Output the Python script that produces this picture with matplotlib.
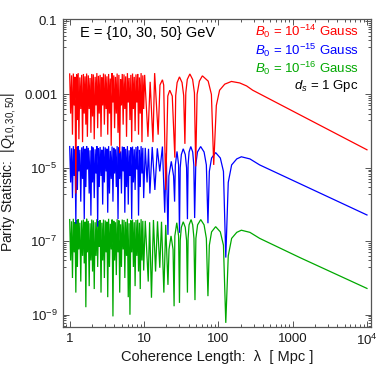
import numpy as np
import matplotlib
matplotlib.use("Agg")
import matplotlib.pyplot as plt

plt.rcParams['font.family'] = ['Liberation Sans', 'DejaVu Sans']
plt.rcParams['mathtext.fontset'] = 'custom'
plt.rcParams['mathtext.rm'] = 'Liberation Sans'
plt.rcParams['mathtext.it'] = 'Liberation Sans:italic'
plt.rcParams['mathtext.bf'] = 'Liberation Sans:bold'

# ---------------- data ----------------
# dense oscillation region, coherence length 1 .. 10 Mpc (alternating peak / trough)
dense_lam = [1.00, 1.03, 1.06, 1.09, 1.12, 1.15, 1.18, 1.21, 1.24, 1.27, 1.30, 1.33,
             1.37, 1.41, 1.45, 1.49, 1.53, 1.57, 1.61, 1.65, 1.69, 1.73, 1.78, 1.83,
             1.88, 1.93, 1.98, 2.03, 2.08, 2.14, 2.20, 2.26, 2.32, 2.38, 2.44, 2.50,
             2.57, 2.64, 2.71, 2.78, 2.85, 2.93, 3.01, 3.09, 3.17, 3.25, 3.34, 3.43,
             3.52, 3.62, 3.72, 3.82, 3.92, 4.02, 4.13, 4.24, 4.35, 4.47, 4.59, 4.71,
             4.84, 4.97, 5.10, 5.24, 5.38, 5.52, 5.67, 5.82, 5.98, 6.14, 6.30, 6.47,
             6.65, 6.83, 7.01, 7.20, 7.39, 7.59, 7.80, 8.01, 8.22, 8.44, 8.67, 8.90,
             9.14, 9.39, 9.64, 9.90]

red_peaks = [3.6e-3, 3.3e-3, 3.7e-3, 3.0e-3, 3.5e-3, 3.8e-3, 2.9e-3, 3.4e-3, 3.6e-3, 3.1e-3,
             3.7e-3, 3.3e-3, 2.8e-3, 3.6e-3, 3.5e-3, 3.0e-3, 3.8e-3, 3.2e-3, 3.4e-3, 2.9e-3,
             3.7e-3, 3.5e-3, 3.1e-3, 3.6e-3, 2.7e-3, 3.8e-3, 3.3e-3, 3.0e-3, 3.7e-3, 3.4e-3,
             2.6e-3, 3.6e-3, 3.5e-3, 3.1e-3, 3.8e-3, 2.8e-3, 3.4e-3, 3.7e-3, 3.0e-3, 3.5e-3,
             3.6e-3, 2.9e-3, 3.8e-3, 3.3e-3]
red_troughs = [3e-4, 8e-5, 5e-4, 2e-6, 2e-4, 6e-5, 4e-4, 5e-5, 3e-4, 1.5e-4,
               7e-5, 4e-4, 9e-5, 2.5e-4, 6e-5, 5e-4, 1.2e-4, 3e-4, 7e-5, 5e-4,
               1.5e-4, 4e-4, 8e-5, 3e-4, 4e-5, 6e-4, 1.2e-4, 3e-4, 9e-5, 2.5e-5,
               5e-4, 1.5e-4, 4e-4, 7e-5, 6e-4, 2e-4, 5e-5, 4e-4, 1e-4, 6e-4,
               8e-5, 3e-4, 5e-5, 4e-4]

blue_peaks = [3.8e-5, 3.4e-5, 3.9e-5, 3.2e-5, 3.7e-5, 3.9e-5, 3.1e-5, 3.6e-5, 3.8e-5, 3.3e-5,
              3.9e-5, 3.5e-5, 3.0e-5, 3.8e-5, 3.6e-5, 3.2e-5, 3.9e-5, 3.4e-5, 3.7e-5, 3.1e-5,
              3.8e-5, 3.6e-5, 3.3e-5, 3.9e-5, 2.9e-5, 3.8e-5, 3.5e-5, 3.2e-5, 3.9e-5, 3.6e-5,
              2.8e-5, 3.8e-5, 3.7e-5, 3.3e-5, 3.9e-5, 3.0e-5, 3.6e-5, 3.8e-5, 3.2e-5, 3.7e-5,
              3.8e-5, 3.1e-5, 3.9e-5, 3.5e-5]
blue_troughs = [4e-6, 1.5e-6, 6e-6, 3e-7, 2.5e-6, 8e-6, 1.2e-6, 5e-6, 4e-7, 3e-6,
                9e-6, 2e-6, 5e-7, 4e-6, 1.5e-6, 7e-6, 2.5e-7, 3e-6, 6e-6, 1e-6,
                4e-6, 8e-6, 6e-7, 2e-6, 5e-6, 1.2e-6, 7e-6, 3e-6, 4e-7, 5e-6,
                2e-6, 8e-6, 6e-7, 3e-6, 1e-6, 6e-6, 4e-7, 4e-6, 2.5e-6, 9e-6,
                5e-7, 3e-6, 7e-6, 1.5e-6]

green_peaks = [3.9e-7, 3.5e-7, 4.1e-7, 3.3e-7, 3.8e-7, 4.0e-7, 3.2e-7, 3.7e-7, 3.9e-7, 3.4e-7,
               4.1e-7, 3.6e-7, 3.1e-7, 3.9e-7, 3.7e-7, 3.3e-7, 4.0e-7, 3.5e-7, 3.8e-7, 3.2e-7,
               3.9e-7, 3.7e-7, 3.4e-7, 4.1e-7, 3.0e-7, 3.9e-7, 3.6e-7, 3.3e-7, 4.0e-7, 3.7e-7,
               2.9e-7, 3.9e-7, 3.8e-7, 3.4e-7, 4.1e-7, 3.1e-7, 3.7e-7, 3.9e-7, 3.3e-7, 3.8e-7,
               3.9e-7, 3.2e-7, 4.0e-7, 3.6e-7]
green_troughs = [3e-8, 1e-8, 5e-8, 4e-9, 2e-8, 6e-8, 8e-9, 4e-8, 2.5e-8, 1.6e-9,
                 5e-8, 6e-9, 3e-8, 1.5e-8, 5e-9, 4e-8, 2e-8, 7e-8, 4e-9, 3e-8,
                 1e-8, 5e-8, 3e-9, 2e-8, 6e-8, 9e-10, 3e-8, 1.2e-8, 5e-8, 4e-9,
                 2e-8, 6e-8, 1e-8, 4e-8, 3e-9, 1e-9, 5e-8, 2e-8, 6e-9, 4e-8,
                 1.5e-8, 5e-9, 3e-8, 1.6e-8]

# arcs (10 .. ~130 Mpc) and smooth tail up to 10^4 Mpc
red_arc_lam = [10.2, 11.3, 12.1, 13.2, 13.9, 15.5, 16.4, 17.7, 18.4, 19.6, 20.9, 22.2, 24.0,
               26.0, 26.7, 27.9, 30.0, 32.5, 34.2, 35.5, 36.5, 38.2, 41.4, 45.1, 47.7, 49.6,
               51.8, 55.6, 61.0, 73.0, 80.7, 86.7, 94, 104, 122, 150, 194, 240, 290, 730,
               2100, 10000]
red_arc_q = [3.4e-3, 7e-5, 2.2e-3, 5e-5, 3.8e-3, 8e-5, 1.8e-3, 2.5e-3, 1.8e-3, 2.5e-6,
             9e-4, 1.3e-3, 9e-4, 1.9e-5, 9.3e-4, 2.1e-3, 3.0e-3, 2.1e-3, 9.3e-4, 4.5e-5,
             1.1e-3, 2.55e-3, 3.6e-3, 2.55e-3, 1.1e-3, 1.1e-5, 1.0e-3, 2.3e-3, 3.2e-3,
             2.3e-3, 1.0e-3, 1.2e-5, 5e-4, 1.3e-3, 1.9e-3, 2.25e-3, 2.05e-3, 1.7e-3,
             1.3e-3, 4.9e-4, 1.6e-4, 3.1e-5]

blue_arc_lam = [10.4, 11.0, 11.5, 12.0, 12.9, 14.0, 15.1, 16.3, 17.7, 19.0, 19.9, 21.0,
                21.6, 23.3, 25.0, 25.8, 26.4, 27.8, 29.2, 30.0, 30.7, 31.8, 33.7, 35.9,
                37.4, 38.4, 39.2, 40.4, 42.6, 45.2, 46.8, 48.0, 49.7, 52.4, 57.8, 64.3,
                69.0, 72.5, 75.7, 81.1, 92.0, 106.4, 117.2, 126, 136, 151, 177, 204, 266,
                360, 1250, 10000]
blue_arc_q = [3.5e-5, 4e-6, 3.3e-5, 2e-6, 3.7e-5, 2.5e-6, 3.4e-5, 8e-6, 3.8e-5, 6e-7,
              2.5e-5, 1.5e-7, 6e-6, 1.5e-5, 6e-6, 1.2e-6, 1.2e-5, 2.8e-5, 1.2e-5, 1.7e-7,
              1.0e-5, 2.3e-5, 3.3e-5, 2.3e-5, 1.0e-5, 4e-7, 1.2e-5, 2.7e-5, 3.8e-5, 2.7e-5,
              1.2e-5, 4.3e-7, 1.2e-5, 2.7e-5, 3.8e-5, 2.7e-5, 1.2e-5, 3.1e-7, 8e-6, 1.85e-5,
              2.6e-5, 1.85e-5, 8e-6, 3.6e-8, 4e-6, 1.2e-5, 1.75e-5, 2.0e-5, 1.75e-5, 1.2e-5,
              3.7e-6, 5.2e-7]

green_arc_lam = [10.4, 11.4, 11.9, 12.6, 13.4, 14.3, 15.2, 16.3, 17.2, 18.5, 19.6, 21.0,
                 21.7, 23.1, 24.6, 25.4, 26.0, 27.6, 29.2, 30.0, 30.7, 31.8, 33.7, 35.9,
                 37.4, 38.4, 39.2, 40.4, 43.0, 45.2, 47.0, 48.5, 49.9, 52.6, 58.0, 64.3,
                 69.0, 72.5, 75.7, 81.1, 92.0, 106.4, 117.2, 126, 136, 151, 177, 204, 266,
                 360, 1250, 10000]
green_arc_q = [3.6e-7, 8e-9, 3.3e-7, 2.9e-9, 3.8e-7, 1.5e-8, 3.5e-7, 1.9e-8, 3.4e-7, 4e-9,
               2.8e-7, 6.5e-9, 6e-8, 1.4e-7, 6e-8, 1.7e-9, 1.4e-7, 3.2e-7, 1.4e-7, 2.1e-9,
               1.05e-7, 2.4e-7, 3.4e-7, 2.4e-7, 1.05e-7, 4e-9, 1.2e-7, 2.8e-7, 3.9e-7, 2.8e-7,
               1.2e-7, 2.5e-9, 1.2e-7, 2.8e-7, 3.9e-7, 2.8e-7, 1.2e-7, 3.2e-9, 7.8e-8, 1.8e-7,
               2.5e-7, 1.8e-7, 7.8e-8, 6e-10, 4e-8, 1.2e-7, 1.75e-7, 2.0e-7, 1.75e-7, 1.2e-7,
               3.6e-8, 5.2e-9]

x_ticks = [1, 10, 100, 1000, 10000]
x_tick_labels = ['1', '10', '100', '1000', r'$10^4$']
y_ticks = [1e-1, 1e-3, 1e-5, 1e-7, 1e-9]
y_tick_labels = ['0.1', '0.001', r'$10^{-5}$', r'$10^{-7}$', r'$10^{-9}$']

RED, BLUE, GREEN = '#ff0000', '#0000ff', '#00a800'
FRAME = '#555555'


def build(peaks, troughs, arc_lam, arc_q):
    y = np.empty(2 * len(peaks))
    y[0::2] = peaks
    y[1::2] = troughs
    lam = np.concatenate([np.asarray(dense_lam), np.asarray(arc_lam, dtype=float)])
    q = np.concatenate([y, np.asarray(arc_q)])
    return lam, q


W, H = 379, 370
fig = plt.figure(figsize=(W / 100, H / 100), dpi=100)
ax = fig.add_axes([63 / W, 43 / H, 308 / W, 308 / H])

for (pk, tr, al, aq, col, z) in [
        (green_peaks, green_troughs, green_arc_lam, green_arc_q, GREEN, 2),
        (blue_peaks, blue_troughs, blue_arc_lam, blue_arc_q, BLUE, 3),
        (red_peaks, red_troughs, red_arc_lam, red_arc_q, RED, 4)]:
    lam, q = build(pk, tr, al, aq)
    ax.plot(lam, q, color=col, lw=0.9, zorder=z, solid_joinstyle='miter')

ax.set_xscale('log')
ax.set_yscale('log')
ax.set_xlim(0.813, 11330)
ax.set_ylim(4.63e-10, 0.113)

ax.set_xticks(x_ticks)
ax.set_xticklabels(x_tick_labels)
x_minor = [m * 10.0 ** k for k in range(-1, 5) for m in range(2, 10)]
ax.set_xticks([v for v in x_minor if 0.813 < v < 11330], minor=True)
ax.set_yticks(y_ticks)
ax.set_yticklabels(y_tick_labels)
y_minor = [m * t / 10.0 for t in y_ticks for m in range(2, 10)]
ax.set_yticks([v for v in y_minor if 4.63e-10 < v < 0.113], minor=True)
ax.yaxis.set_minor_formatter(matplotlib.ticker.NullFormatter())
ax.xaxis.set_minor_formatter(matplotlib.ticker.NullFormatter())

ax.tick_params(which='both', direction='in', top=True, right=True, color=FRAME,
               labelsize=9.5, labelcolor='#1a1a1a', width=0.7)
ax.tick_params(which='major', length=4.5, pad=4)
ax.tick_params(which='minor', length=2.5)
for s in ax.spines.values():
    s.set_color(FRAME)
    s.set_linewidth(0.9)

fig.text(217 / W, 1 - 356.5 / H, 'Coherence Length:  λ  [ Mpc ]', ha='center', va='center',
         fontsize=10.5, color='#1a1a1a')
fig.text(9 / W, 1 - 172 / H, r'Parity Statistic:  |$Q_{10,30,50}$|', ha='center',
         va='center', rotation=90, fontsize=10, color='#1a1a1a')

fig.text(80 / W, 1 - 33.5 / H, 'E = {10, 30, 50} GeV', ha='left', va='center',
         fontsize=10.5, color='black')
fig.text(358.5 / W, 1 - 31.5 / H, r'$B_0$ = $10^{-14}$ Gauss', ha='right', va='center',
         fontsize=9.5, color=RED)
fig.text(358.5 / W, 1 - 50 / H, r'$B_0$ = $10^{-15}$ Gauss', ha='right', va='center',
         fontsize=9.5, color=BLUE)
fig.text(358.5 / W, 1 - 68.5 / H, r'$B_0$ = $10^{-16}$ Gauss', ha='right', va='center',
         fontsize=9.5, color=GREEN)
fig.text(358.5 / W, 1 - 86 / H, r'$d_s$ = 1 Gpc', ha='right', va='center',
         fontsize=9.5, color='black')

fig.savefig('out.png', dpi=100)
